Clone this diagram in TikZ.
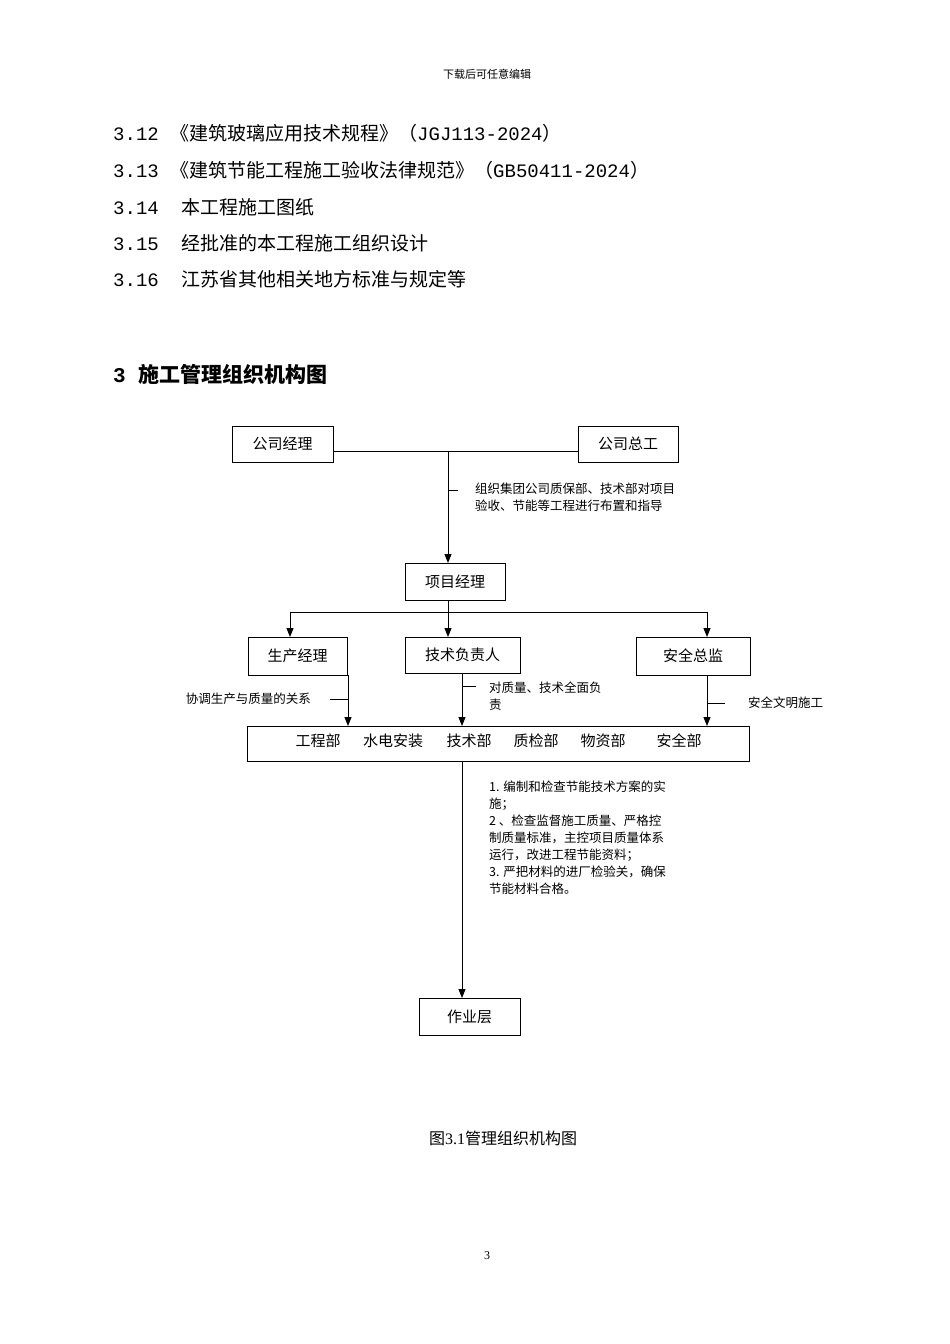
\documentclass[tikz,border=0pt]{standalone}
\usepackage{fontspec}
\setmainfont{Liberation Serif}
\newfontfamily\cjk{Noto Sans CJK SC}
\newfontfamily\mono{Liberation Mono}
\usetikzlibrary{arrows.meta}
\begin{document}
\begin{tikzpicture}[x=1pt,y=-1pt,
  bx/.style={draw,line width=1pt,inner sep=0pt,font=\cjk\fontsize{15}{15}\selectfont},
  ln/.style={line width=1pt},
  ar/.style={line width=1pt,-{Triangle[length=9pt,width=7pt]}},
  lbl/.style={font=\cjk\fontsize{12.5}{17}\selectfont,inner sep=0pt},
  bt/.style={anchor=west,inner sep=0pt,font=\fontsize{19}{19}\selectfont}]
\useasboundingbox[fill=white] (0,0) rectangle (950,1344);
\node[font=\cjk\fontsize{11}{11}\selectfont] (hd) at (487,74) {下载后可任意编辑};
\node[bt] (l1) at (113,133) {\mono 3.12 \cjk《建筑玻璃应用技术规程》（\mono JGJ113-2024\cjk）};
\node[bt] (l2) at (113,170) {\mono 3.13 \cjk《建筑节能工程施工验收法律规范》（\mono GB50411-2024\cjk）};
\node[bt] (l3) at (113,207) {\mono 3.14 \ \cjk 本工程施工图纸};
\node[bt] (l4) at (113,243) {\mono 3.15 \ \cjk 经批准的本工程施工组织设计};
\node[bt] (l5) at (113,279) {\mono 3.16 \ \cjk 江苏省其他相关地方标准与规定等};
\node[bt,font=\bfseries\fontsize{21}{21}\selectfont] (h) at (113,374) {\mono\bfseries 3 \cjk\bfseries 施工管理组织机构图};

\node[bx,minimum width=101pt,minimum height=36pt] (gm) at (282.5,444) {公司经理};
\node[bx,minimum width=100pt,minimum height=36pt] (ge) at (628,444) {公司总工};
\node[bx,minimum width=100pt,minimum height=37pt] (pm) at (455,581.5) {项目经理};
\node[bx,minimum width=99pt,minimum height=38pt] (sc) at (297.5,656) {生产经理};
\node[bx,minimum width=115pt,minimum height=36pt] (js) at (462.5,655) {技术负责人};
\node[bx,minimum width=114pt,minimum height=38pt] (aq) at (693,656) {安全总监};
\node[bx,minimum width=502pt,minimum height=35pt] (dp) at (498,743.5) {};
\node[bx,minimum width=101pt,minimum height=37pt] (zy) at (469.5,1016.5) {作业层};
\foreach \t/\x in {工程部/318,水电安装/393,技术部/469,质检部/536,物资部/603,安全部/679}
  \node[font=\cjk\fontsize{15}{15}\selectfont] at (\x,741) {\t};

\coordinate (j1) at (448,451);
\draw[ln] (gm.east |- j1) -- (ge.west |- j1);
\draw[ar] (j1) -- (448,563);
\draw[ln] (448,490) -- (458,490);
\node[lbl,anchor=north west,align=left] (t1) at (475,483) {组织集团公司质保部、技术部对项目\\验收、节能等工程进行布置和指导};

\draw[ln] (448,600) -- (448,612);
\draw[ln] (290,612) -- (707,612);
\draw[ar] (290,612) -- (290,637);
\draw[ar] (448,612) -- (448,637);
\draw[ar] (707,612) -- (707,637);

\draw[ar] (348,675) -- (348,726);
\draw[ln] (330,699) -- (348,699);
\node[lbl,anchor=east] (t2) at (311,699) {协调生产与质量的关系};
\draw[ar] (462,673) -- (462,726);
\draw[ln] (462,686) -- (476,686);
\node[lbl,anchor=north west,align=left] (t3) at (489,682) {对质量、技术全面负\\责};
\draw[ar] (707,675) -- (707,726);
\draw[ln] (707,703) -- (725,703);
\node[lbl,anchor=west] (t4) at (748,703) {安全文明施工};

\draw[ar] (462,761) -- (462,998);
\node[lbl,anchor=north west,align=left,font=\cjk\fontsize{12.5}{16.9}\selectfont] (t5) at (489,781) {1. 编制和检查节能技术方案的实\\施；\\2 、检查监督施工质量、严格控\\制质量标准，主控项目质量体系\\运行，改进工程节能资料；\\3. 严把材料的进厂检验关，确保\\节能材料合格。};

\node[font=\cjk\fontsize{16}{16}\selectfont] (cap) at (503,1138) {图\rmfamily 3.1\cjk 管理组织机构图};
\node[font=\fontsize{12}{12}\selectfont] (pg) at (487,1256) {3};
\end{tikzpicture}
\end{document}
